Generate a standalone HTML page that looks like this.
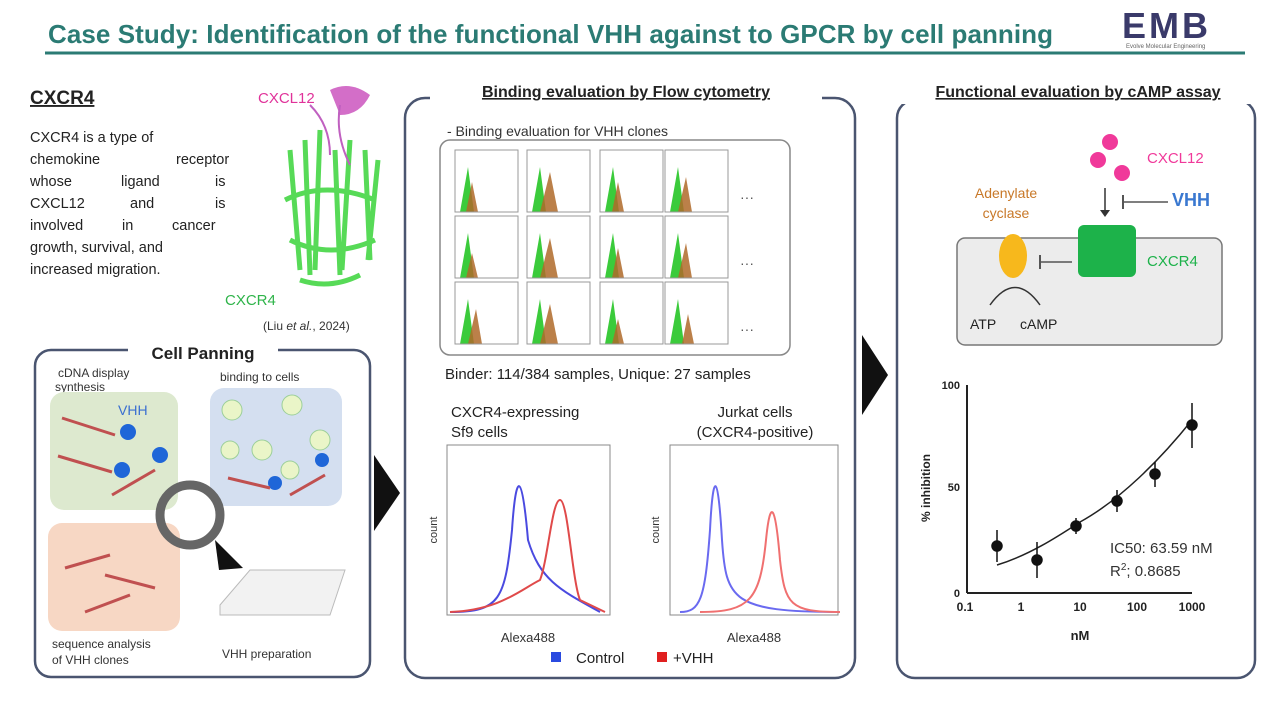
<!DOCTYPE html>
<html><head><meta charset="utf-8"><style>
body{margin:0;width:1280px;height:720px;background:#fff;overflow:hidden;font-family:"Liberation Sans",sans-serif}
</style></head><body>
<svg width="1280" height="720" viewBox="0 0 1280 720" font-family="Liberation Sans, sans-serif">
<!-- title -->
<text x="48" y="43" font-size="26" font-weight="bold" fill="#2b7b74" textLength="1005">Case Study: Identification of the functional VHH against to GPCR by cell panning</text>
<line x1="45" y1="53" x2="1245" y2="53" stroke="#2b7b74" stroke-width="3"/>
<text x="1122" y="38" font-size="36" font-weight="bold" fill="#3a3a6a" letter-spacing="3">EMB</text>
<text x="1126" y="48" font-size="6" fill="#666">Evolve Molecular Engineering</text>

<!-- left -->
<text x="30" y="104" font-size="19" font-weight="bold" fill="#222" text-decoration="underline">CXCR4</text>
<g font-size="14.5" fill="#222">
<text x="30" y="142">CXCR4 is a type of</text>
<text x="30" y="164">chemokine</text><text x="176" y="164">receptor</text>
<text x="30" y="186">whose</text><text x="121" y="186">ligand</text><text x="215" y="186">is</text>
<text x="30" y="208">CXCL12</text><text x="130" y="208">and</text><text x="215" y="208">is</text>
<text x="30" y="230">involved</text><text x="122" y="230">in</text><text x="172" y="230">cancer</text>
<text x="30" y="252">growth, survival, and</text>
<text x="30" y="274">increased migration.</text>
</g>
<text x="258" y="103" font-size="15" fill="#e0339a">CXCL12</text>
<path d="M330 90 q20 -10 40 5 q-10 20 -30 20 z" fill="#c030b0" opacity="0.7"/>
<g stroke="#3ad43a" stroke-width="5" fill="none" opacity="0.85">
<path d="M290 150 l10 120 M305 140 l5 135 M320 130 l-5 140 M335 150 l5 125 M350 140 l-8 130 M365 150 l5 110 M378 160 l-10 100"/>
<path d="M285 200 q40 -20 90 0 M290 240 q40 20 85 0 M300 280 q30 10 60 -5"/>
</g>
<path d="M310 105 q20 20 20 50 M340 105 q-5 30 10 60" stroke="#c060c0" fill="none" stroke-width="2"/>
<text x="225" y="305" font-size="15" fill="#2fb44a">CXCR4</text>
<text x="263" y="330" font-size="12" fill="#333">(Liu <tspan font-style="italic">et al.</tspan>, 2024)</text>

<rect x="35" y="350" width="335" height="327" rx="16" fill="none" stroke="#4a5570" stroke-width="2.5"/>
<rect x="128" y="342" width="150" height="18" fill="#fff"/>
<text x="203" y="359" font-size="17" font-weight="bold" fill="#222" text-anchor="middle">Cell Panning</text>
<text x="58" y="377" font-size="12" fill="#333">cDNA display</text>
<text x="55" y="391" font-size="12" fill="#333">synthesis</text>
<text x="220" y="381" font-size="12" fill="#333">binding to cells</text>
<rect x="50" y="392" width="128" height="118" rx="14" fill="#dde9cf"/>
<text x="118" y="415" font-size="14" fill="#3a6fd0">VHH</text>
<rect x="210" y="388" width="132" height="118" rx="14" fill="#d4dff0"/>
<rect x="48" y="523" width="132" height="108" rx="14" fill="#f7d7c4"/>
<g fill="#1f66d8"><circle cx="128" cy="432" r="8"/><circle cx="122" cy="470" r="8"/><circle cx="160" cy="455" r="8"/><circle cx="322" cy="460" r="7"/><circle cx="275" cy="483" r="7"/></g>
<g stroke="#c05050" stroke-width="3"><line x1="62" y1="418" x2="115" y2="435"/><line x1="58" y1="456" x2="112" y2="472"/><line x1="112" y1="495" x2="155" y2="470"/><line x1="65" y1="568" x2="110" y2="555"/><line x1="105" y1="575" x2="155" y2="588"/><line x1="85" y1="612" x2="130" y2="595"/><line x1="228" y1="478" x2="270" y2="488"/><line x1="290" y1="495" x2="325" y2="475"/></g>
<g fill="#eaf5c8" stroke="#9ccf9a"><circle cx="232" cy="410" r="10"/><circle cx="292" cy="405" r="10"/><circle cx="262" cy="450" r="10"/><circle cx="320" cy="440" r="10"/><circle cx="230" cy="450" r="9"/><circle cx="290" cy="470" r="9"/></g>
<circle cx="190" cy="515" r="30" fill="none" stroke="#666" stroke-width="9"/>
<path d="M215 540 l28 28 l-24 2 z" fill="#111"/>
<path d="M220 605 l30 -35 l95 0 l-15 45 l-110 0 z" fill="#f2f2f2" stroke="#bbb"/>
<text x="52" y="648" font-size="12" fill="#333">sequence analysis</text>
<text x="52" y="664" font-size="12" fill="#333">of VHH clones</text>
<text x="222" y="658" font-size="12" fill="#333">VHH preparation</text>
<path d="M374 455 l26 38 l-26 38 z" fill="#111"/>

<!-- middle -->
<rect x="405" y="98" width="450" height="580" rx="20" fill="none" stroke="#4a5570" stroke-width="2.5"/>
<rect x="430" y="84" width="392" height="20" fill="#fff"/>
<text x="626" y="97" font-size="16" font-weight="bold" fill="#222" text-anchor="middle" text-decoration="underline">Binding evaluation by Flow cytometry</text>
<text x="447" y="136" font-size="14" fill="#333">- Binding evaluation for VHH clones</text>
<rect x="440" y="140" width="350" height="215" rx="10" fill="none" stroke="#888" stroke-width="1.5"/>
<g>
<g fill="#3bcb3b">
<path d="M460 212 l8 -45 l6 45 z M532 212 l8 -45 l6 45 z M605 212 l8 -45 l6 45 z M670 212 l8 -45 l6 45 z"/>
<path d="M460 278 l8 -45 l6 45 z M532 278 l8 -45 l6 45 z M605 278 l8 -45 l6 45 z M670 278 l8 -45 l6 45 z"/>
<path d="M460 344 l8 -45 l6 45 z M532 344 l8 -45 l6 45 z M605 344 l8 -45 l6 45 z M670 344 l8 -45 l6 45 z"/>
</g>
<g fill="#b06a2a" opacity="0.85">
<path d="M466 212 l6 -30 l6 30 z M540 212 l10 -40 l8 40 z M612 212 l6 -30 l6 30 z M678 212 l8 -35 l6 35 z"/>
<path d="M466 278 l6 -25 l6 25 z M540 278 l10 -40 l8 40 z M612 278 l6 -30 l6 30 z M678 278 l8 -35 l6 35 z"/>
<path d="M468 344 l8 -35 l6 35 z M540 344 l10 -40 l8 40 z M612 344 l6 -25 l6 25 z M682 344 l6 -30 l6 30 z"/>
</g>
<g fill="none" stroke="#999"><rect x="455" y="150" width="63" height="62"/><rect x="527" y="150" width="63" height="62"/><rect x="600" y="150" width="63" height="62"/><rect x="665" y="150" width="63" height="62"/>
<rect x="455" y="216" width="63" height="62"/><rect x="527" y="216" width="63" height="62"/><rect x="600" y="216" width="63" height="62"/><rect x="665" y="216" width="63" height="62"/>
<rect x="455" y="282" width="63" height="62"/><rect x="527" y="282" width="63" height="62"/><rect x="600" y="282" width="63" height="62"/><rect x="665" y="282" width="63" height="62"/></g>
<text x="740" y="202" font-size="14" fill="#555">···</text><text x="740" y="268" font-size="14" fill="#555">···</text><text x="740" y="334" font-size="14" fill="#555">···</text>
</g>
<text x="445" y="379" font-size="15" fill="#222">Binder: 114/384 samples, Unique: 27 samples</text>
<text x="451" y="417" font-size="15" fill="#222">CXCR4-expressing</text>
<text x="451" y="437" font-size="15" fill="#222">Sf9 cells</text>
<text x="755" y="417" font-size="15" fill="#222" text-anchor="middle">Jurkat cells</text>
<text x="755" y="437" font-size="15" fill="#222" text-anchor="middle">(CXCR4-positive)</text>
<rect x="447" y="445" width="163" height="170" fill="none" stroke="#888"/>
<rect x="670" y="445" width="168" height="170" fill="none" stroke="#888"/>
<path d="M450 612 C500 612 505 600 512 530 C516 470 522 470 528 540 C540 580 560 590 600 612" stroke="#4a4ae0" stroke-width="2" fill="none"/>
<path d="M450 612 C500 610 520 590 540 580 C548 560 552 500 560 500 C568 500 572 580 580 600 L605 612" stroke="#e04a4a" stroke-width="2" fill="none"/>
<path d="M680 612 C700 612 705 600 710 530 C713 470 718 470 722 540 C726 600 732 612 840 612" stroke="#6a6af0" stroke-width="2" fill="none"/>
<path d="M700 612 C750 612 760 600 766 540 C770 500 775 500 780 560 C785 605 790 612 840 612" stroke="#f07070" stroke-width="2" fill="none"/>
<text x="437" y="530" font-size="11" fill="#333" transform="rotate(-90 437 530)" text-anchor="middle">count</text>
<text x="659" y="530" font-size="11" fill="#333" transform="rotate(-90 659 530)" text-anchor="middle">count</text>
<text x="528" y="642" font-size="13" fill="#333" text-anchor="middle">Alexa488</text>
<text x="754" y="642" font-size="13" fill="#333" text-anchor="middle">Alexa488</text>
<rect x="551" y="652" width="10" height="10" fill="#2a4ae0"/><text x="576" y="663" font-size="15" fill="#222">Control</text>
<rect x="657" y="652" width="10" height="10" fill="#e02020"/><text x="673" y="663" font-size="15" fill="#222">+VHH</text>
<path d="M862 335 l26 40 l-26 40 z" fill="#111"/>

<!-- right -->
<rect x="897" y="100" width="358" height="578" rx="18" fill="none" stroke="#4a5570" stroke-width="2.5"/>
<rect x="887" y="84" width="382" height="20" fill="#fff"/>
<text x="1078" y="97" font-size="16" font-weight="bold" fill="#222" text-anchor="middle" text-decoration="underline">Functional evaluation by cAMP assay</text>
<g fill="#f0399a"><circle cx="1110" cy="142" r="8"/><circle cx="1098" cy="160" r="8"/><circle cx="1122" cy="173" r="8"/></g>
<text x="1147" y="163" font-size="15" fill="#f0399a">CXCL12</text>
<text x="1172" y="206" font-size="18" font-weight="bold" fill="#3a78d0">VHH</text>
<line x1="1123" y1="202" x2="1168" y2="202" stroke="#555" stroke-width="1.5"/><line x1="1123" y1="195" x2="1123" y2="209" stroke="#555" stroke-width="2"/>
<line x1="1105" y1="188" x2="1105" y2="212" stroke="#333" stroke-width="1.5"/><path d="M1100 210 l5 7 l5 -7z" fill="#333"/>
<text x="1006" y="198" font-size="14" fill="#c87828" text-anchor="middle">Adenylate</text>
<text x="1006" y="218" font-size="14" fill="#c87828" text-anchor="middle">cyclase</text>
<rect x="957" y="238" width="265" height="107" rx="8" fill="#ececec" stroke="#777" stroke-width="1.5"/>
<ellipse cx="1013" cy="256" rx="14" ry="22" fill="#f7b81c"/>
<rect x="1078" y="225" width="58" height="52" rx="6" fill="#1db24a"/>
<text x="1147" y="266" font-size="15" fill="#1db24a">CXCR4</text>
<line x1="1040" y1="262" x2="1072" y2="262" stroke="#555" stroke-width="1.5"/><line x1="1040" y1="255" x2="1040" y2="269" stroke="#555" stroke-width="2"/>
<path d="M990 305 q25 -35 50 0" fill="none" stroke="#333" stroke-width="1.5"/>
<text x="970" y="329" font-size="14" fill="#222">ATP</text><text x="1020" y="329" font-size="14" fill="#222">cAMP</text>
<!-- chart -->
<line x1="967" y1="385" x2="967" y2="593" stroke="#222" stroke-width="2"/>
<line x1="967" y1="593" x2="1192" y2="593" stroke="#222" stroke-width="2"/>
<g font-size="11" font-weight="bold" fill="#222" text-anchor="end"><text x="960" y="389">100</text><text x="960" y="491">50</text><text x="960" y="597">0</text></g>
<g font-size="12" font-weight="bold" fill="#222" text-anchor="middle"><text x="965" y="611">0.1</text><text x="1021" y="611">1</text><text x="1080" y="611">10</text><text x="1137" y="611">100</text><text x="1192" y="611">1000</text></g>
<text x="1080" y="640" font-size="13" font-weight="bold" fill="#222" text-anchor="middle">nM</text>
<text x="930" y="488" font-size="12" font-weight="bold" fill="#222" transform="rotate(-90 930 488)" text-anchor="middle">% inhibition</text>
<path d="M997 565 C1030 555 1060 535 1080 522 C1120 500 1160 460 1192 420" stroke="#222" stroke-width="1.5" fill="none"/>
<g fill="#111" stroke="#111" stroke-width="1.5">
<circle cx="997" cy="546" r="5"/><line x1="997" y1="530" x2="997" y2="562"/>
<circle cx="1037" cy="560" r="5"/><line x1="1037" y1="542" x2="1037" y2="578"/>
<circle cx="1076" cy="526" r="5"/><line x1="1076" y1="518" x2="1076" y2="534"/>
<circle cx="1117" cy="501" r="5"/><line x1="1117" y1="490" x2="1117" y2="512"/>
<circle cx="1155" cy="474" r="5"/><line x1="1155" y1="462" x2="1155" y2="487"/>
<circle cx="1192" cy="425" r="5"/><line x1="1192" y1="403" x2="1192" y2="448"/>
</g>
<text x="1110" y="553" font-size="15" fill="#333">IC50: 63.59 nM</text>
<text x="1110" y="576" font-size="15" fill="#333">R<tspan font-size="10" dy="-6">2</tspan><tspan dy="6">; 0.8685</tspan></text>
</svg>
</body></html>
